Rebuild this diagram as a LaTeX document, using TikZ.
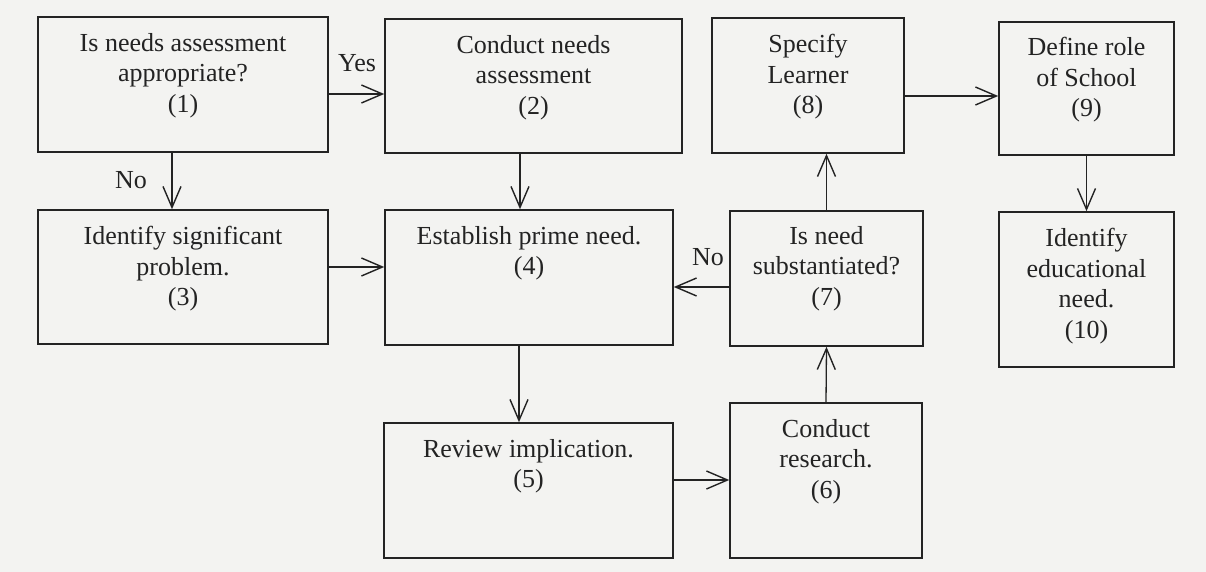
\documentclass[tikz,border=0pt]{standalone}
\usepackage{fontspec}
\setmainfont{Liberation Serif}
\usetikzlibrary{arrows.meta,positioning}
\definecolor{paper}{RGB}{243,243,241}
\definecolor{ink}{RGB}{35,35,35}
\tikzset{
  box/.style={draw=ink, line width=1.6pt, rectangle, inner sep=0pt},
  txt/.style={text=ink, align=center, inner sep=0pt, font=\fontsize{26}{30.5}\selectfont},
  lbl/.style={text=ink, inner sep=0pt, font=\fontsize{26}{30.5}\selectfont},
  arr/.style={draw=ink, line width=1.3pt, -{Straight Barb[length=21pt,width=18pt,line width=1.4pt]}}
}
\begin{document}
\begin{tikzpicture}[x=1pt,y=-1pt]
\useasboundingbox (0,0) rectangle (1206,572);
\fill[paper] (0,0) rectangle (1206,572);

% boxes
\node[box, minimum width=290pt, minimum height=135pt] (b1) at (183,84.5) {};
\node[box, minimum width=297pt, minimum height=134pt] (b2) at (533.5,86) {};
\node[box, minimum width=290pt, minimum height=134pt] (b3) at (183,277) {};
\node[box, minimum width=288pt, minimum height=135pt] (b4) at (529,277.5) {};
\node[box, minimum width=289pt, minimum height=135pt] (b5) at (528.5,490.5) {};
\node[box, minimum width=192pt, minimum height=155pt] (b6) at (826,480.5) {};
\node[box, minimum width=193pt, minimum height=135pt] (b7) at (826.5,278.5) {};
\node[box, minimum width=192pt, minimum height=135pt] (b8) at (808,85.5) {};
\node[box, minimum width=175pt, minimum height=133pt] (b9) at (1086.5,88.5) {};
\node[box, minimum width=175pt, minimum height=155pt] (b10) at (1086.5,289.5) {};

% texts
\node[txt, anchor=north, below=17pt of b1.north] (t1) {Is needs assessment\\appropriate?\\(1)};
\node[txt, anchor=north, below=17pt of b2.north] (t2) {Conduct needs\\assessment\\(2)};
\node[txt, anchor=north, below=17pt of b3.north] (t3) {Identify significant\\problem.\\(3)};
\node[txt, anchor=north, below=17pt of b4.north] (t4) {Establish prime need.\\(4)};
\node[txt, anchor=north, below=17pt of b5.north] (t5) {Review implication.\\(5)};
\node[txt, anchor=north, below=17pt of b6.north] (t6) {Conduct\\research.\\(6)};
\node[txt, anchor=north, below=16pt of b7.north] (t7) {Is need\\substantiated?\\(7)};
\node[txt, anchor=north, below=17pt of b8.north] (t8) {Specify\\Learner\\(8)};
\node[txt, anchor=north, below=16pt of b9.north] (t9) {Define role\\of School\\(9)};
\node[txt, anchor=north, below=17pt of b10.north] (t10) {Identify\\educational\\need.\\(10)};

% connectors
\draw[arr] ([yshift=-9.5pt]b1.east) -- ([yshift=-9.5pt]b1.east -| b2.west);
\draw[arr] ([xshift=-11pt]b1.south) -- ([xshift=-11pt]b1.south |- b3.north);
\draw[arr] ([yshift=10pt]b3.east) -- ([yshift=10pt]b3.east -| b4.west);
\draw[arr] ([xshift=-13.5pt]b2.south) -- ([xshift=-13.5pt]b2.south |- b4.north);
\draw[arr] ([xshift=-10pt]b4.south) -- ([xshift=-10pt]b4.south |- b5.north);
\draw[arr] ([yshift=10.5pt]b5.east) -- ([yshift=10.5pt]b5.east -| b6.west);
\draw[arr] (b6.north) -- (b7.south);
\draw[arr] (b7.north) -- (b7.north |- b8.south);
\draw[arr] ([yshift=-8.5pt]b7.west) -- ([yshift=-8.5pt]b7.west -| b4.east);
\draw[arr] ([yshift=-10.5pt]b8.east) -- ([yshift=-10.5pt]b8.east -| b9.west);
\draw[arr] (b9.south) -- (b10.north);

% labels
\node[lbl] (yes) at (357,63) {Yes};
\node[lbl] (no1) at (131,180) {No};
\node[lbl] (no2) at (708,257) {No};
\end{tikzpicture}
\end{document}
